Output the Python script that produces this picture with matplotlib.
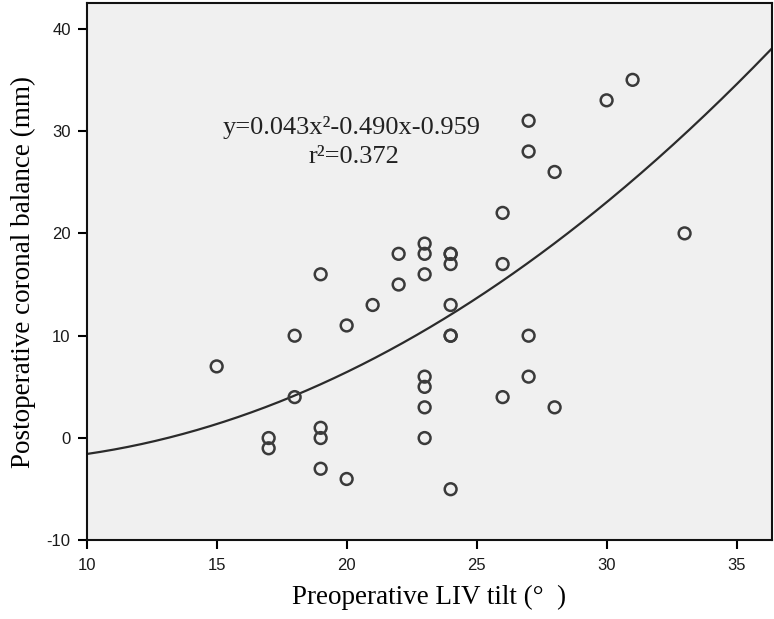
import numpy as np
import matplotlib
matplotlib.use("Agg")
import matplotlib.pyplot as plt

plt.rcParams["axes.unicode_minus"] = False

# Data
tilt = [15, 17, 17, 18, 18, 19, 19, 19, 19, 20, 20, 21, 22, 22,
        23, 23, 23, 23, 23, 23, 23, 24, 24, 24, 24, 24, 24, 24,
        26, 26, 26, 27, 27, 27, 27, 28, 28, 30, 31, 33]
balance = [7, 0, -1, 10, 4, 16, 1, 0, -3, 11, -4, 13, 18, 15,
           19, 18, 16, 6, 5, 3, 0, 18, 18, 17, 13, 10, 10, -5,
           22, 17, 4, 31, 28, 10, 6, 26, 3, 33, 35, 20]
coef = [0.043, -0.490, -0.959]
xticks = [10, 15, 20, 25, 30, 35]
yticks = [-10, 0, 10, 20, 30, 40]

fig = plt.figure(figsize=(7.74, 6.19), dpi=100)
ax = fig.add_axes([0.112, 0.127, 0.885, 0.868])
ax.set_facecolor("#f0f0f0")

xmin, xmax = 10, 36.35
ax.set_xlim(xmin, xmax)
ax.set_ylim(-10, 42.5)

xs = np.linspace(xmin, xmax, 300)
ys = np.polyval(coef, xs)
ax.plot(xs, ys, color="#2b2b2b", lw=1.6, zorder=2)

ax.scatter(tilt, balance, s=72, facecolors="none", edgecolors="#3a3a3a",
           linewidths=1.8, zorder=3)

ax.set_xticks(xticks)
ax.set_yticks(yticks)
ax.tick_params(direction="out", length=6.5, width=1.5, color="black",
               labelsize=12, labelcolor="#1a1a1a")
ax.tick_params(axis="x", pad=6)
ax.tick_params(axis="y", pad=5)
for lab in ax.get_xticklabels() + ax.get_yticklabels():
    lab.set_family("Liberation Sans")

for sp in ax.spines.values():
    sp.set_linewidth(1.5)
    sp.set_color("#111111")

ax.set_xlabel("Preoperative LIV tilt (°  )", family="Liberation Serif",
              fontsize=19.5, labelpad=9)
ax.set_ylabel("Postoperative coronal balance (mm)", family="Liberation Serif",
              fontsize=19.5, labelpad=8)

ax.text(20.19, 30.33, "y=0.043x²-0.490x-0.959", family="Liberation Serif",
        fontsize=19, ha="center", va="center", color="#222222")
ax.text(20.3, 27.5, "r²=0.372", family="Liberation Serif",
        fontsize=19, ha="center", va="center", color="#222222")

fig.savefig("out.png", dpi=100)
